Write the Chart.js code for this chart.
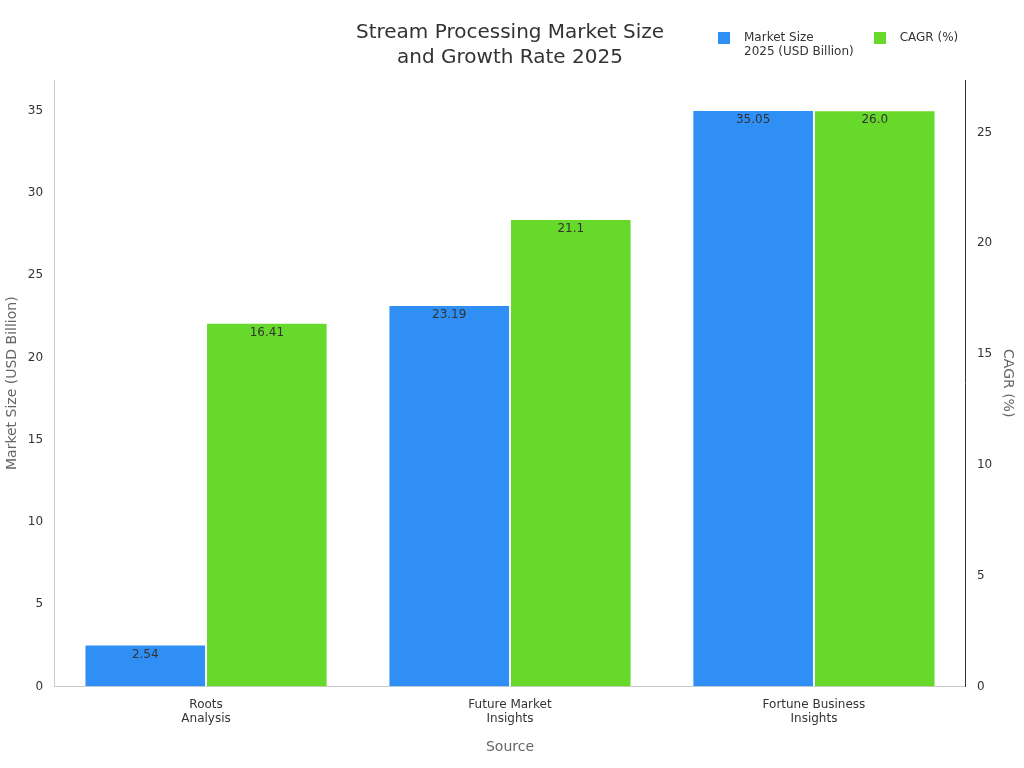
<!DOCTYPE html>
<html lang="en">
<head>
<meta charset="UTF-8" />
<title>Stream Processing Market Size</title>
<script src="https://cdn.jsdelivr.net/npm/chart.js"></script>
<style>
  html, body { margin: 0; padding: 0; background: #fff; }
  #wrap { position: relative; width: 1024px; height: 768px; }
  #legend { position: absolute; top: 30px; left: 718px; font: 12px "DejaVu Sans", sans-serif; color: #333; display: flex; }
  .item { display: flex; align-items: flex-start; margin-right: 20px; }
  .sw { width: 12px; height: 12px; margin: 2px 14px 0 0; }
</style>
</head>
<body>
<div id="wrap">
  <canvas id="chart" width="1024" height="768"></canvas>
  <div id="legend">
    <div class="item"><div class="sw" style="background:#2f8ff5"></div><div>Market Size<br>2025 (USD Billion)</div></div>
    <div class="item"><div class="sw" style="background:#66d92a"></div><div>CAGR (%)</div></div>
  </div>
</div>
<script>
const categories = [["Roots", "Analysis"], ["Future Market", "Insights"], ["Fortune Business", "Insights"]];
const marketSize = [2.54, 23.19, 35.05];
const cagr = [16.41, 21.1, 26.0];
const marketLabels = ["2.54", "23.19", "35.05"];
const cagrLabels = ["16.41", "21.1", "26.0"];

const FONT = "'DejaVu Sans', sans-serif";

// value labels just inside the top of each bar
const barLabels = {
  id: 'barLabels',
  afterDatasetsDraw(chart) {
    const ctx = chart.ctx;
    const texts = [marketLabels, cagrLabels];
    ctx.save();
    ctx.font = "12px " + FONT;
    ctx.fillStyle = "#333";
    ctx.textAlign = "center";
    ctx.textBaseline = "top";
    chart.data.datasets.forEach((ds, i) => {
      chart.getDatasetMeta(i).data.forEach((bar, j) => {
        ctx.fillText(texts[i][j], bar.x, bar.y + 4);
      });
    });
    ctx.restore();
  }
};

const only5 = axis => { axis.ticks = axis.ticks.filter(t => t.value % 5 === 0); };

new Chart(document.getElementById('chart'), {
  type: 'bar',
  data: {
    labels: categories,
    datasets: [
      { label: 'Market Size 2025 (USD Billion)', data: marketSize, backgroundColor: '#2f8ff5',
        borderColor: '#fff', borderWidth: 1, yAxisID: 'y' },
      { label: 'CAGR (%)', data: cagr, backgroundColor: '#66d92a',
        borderColor: '#fff', borderWidth: 1, yAxisID: 'y1' }
    ]
  },
  options: {
    responsive: false,
    animation: false,
    layout: { padding: { top: 6, left: 0, right: 4, bottom: 8 } },
    datasets: { bar: { categoryPercentage: 0.8, barPercentage: 1.0 } },
    plugins: {
      legend: { display: false },
      tooltip: { enabled: false },
      title: {
        display: true,
        text: ['Stream Processing Market Size', 'and Growth Rate 2025'],
        color: '#333',
        font: { family: FONT, size: 20, weight: 'normal', lineHeight: 1.25 },
        padding: { top: 14, bottom: 10 }
      }
    },
    scales: {
      x: {
        grid: { display: false },
        border: { color: '#ccc' },
        ticks: { color: '#333', font: { family: FONT, size: 12 } },
        title: { display: true, text: 'Source', color: '#666', font: { family: FONT, size: 14 }, padding: { top: 10 } }
      },
      y: {
        position: 'left',
        min: 0, max: 36.87,
        afterBuildTicks: only5,
        grid: { display: false, drawTicks: true },
        border: { color: '#ccc' },
        ticks: { color: '#333', font: { family: FONT, size: 12 } },
        title: { display: true, text: 'Market Size (USD Billion)', color: '#666', font: { family: FONT, size: 14 } }
      },
      y1: {
        position: 'right',
        min: 0, max: 27.37,
        afterBuildTicks: only5,
        grid: { display: false },
        border: { color: '#333' },
        ticks: { color: '#333', font: { family: FONT, size: 12 } },
        title: { display: true, text: 'CAGR (%)', color: '#666', font: { family: FONT, size: 14 } }
      }
    }
  },
  plugins: [barLabels]
});
</script>
</body>
</html>
